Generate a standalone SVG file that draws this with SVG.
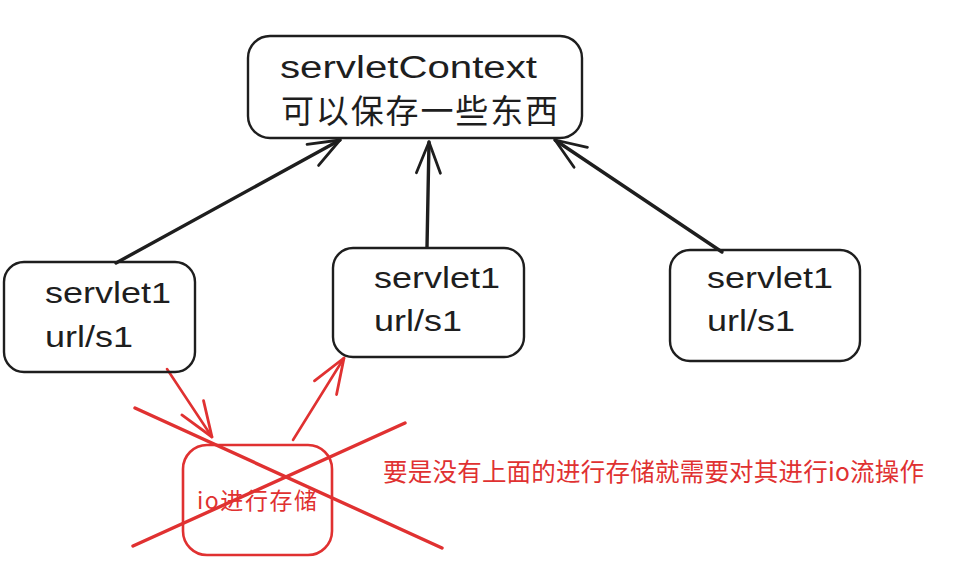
<svg xmlns="http://www.w3.org/2000/svg" width="960" height="580" viewBox="0 0 960 580">
<style>
.box{fill:none;stroke:#1e1e1e;stroke-width:2.4}
.rbox{fill:none;stroke:#e03131;stroke-width:2.6}
.t{font-family:"Liberation Sans","Noto Sans CJK SC",sans-serif;fill:#1e1e1e}
.cn{font-family:"Noto Sans CJK SC",sans-serif;fill:#1e1e1e}
.rt{font-family:"Noto Sans CJK SC","Liberation Sans",sans-serif;fill:#e03131}
.arr{fill:none;stroke:#1e1e1e;stroke-width:3.4;stroke-linecap:round}
.rarr{fill:none;stroke:#e03131;stroke-width:2.6;stroke-linecap:round}
.cross{fill:none;stroke:#e03131;stroke-width:3.4;stroke-linecap:round}
</style>
<defs>
<marker id="ah" markerUnits="userSpaceOnUse" markerWidth="80" markerHeight="80" viewBox="-40 -40 80 80" refX="0" refY="0" orient="auto">
<path d="M-31,-12 L0,0 L-31,12" fill="none" stroke="#1e1e1e" stroke-width="2.8" stroke-linecap="round" stroke-linejoin="round"/>
</marker>
<marker id="rah" markerUnits="userSpaceOnUse" markerWidth="80" markerHeight="80" viewBox="-40 -40 80 80" refX="0" refY="0" orient="auto">
<path d="M-35,-13 L0,0 L-35,13" fill="none" stroke="#e03131" stroke-width="2.8" stroke-linecap="round" stroke-linejoin="round"/>
</marker>
</defs>
<rect width="960" height="580" fill="#ffffff"/>

<g id="connectors">
<line class="arr" x1="116" y1="263" x2="340" y2="140" marker-end="url(#ah)"/>
<line class="arr" x1="427" y1="247" x2="429" y2="142" marker-end="url(#ah)"/>
<line class="arr" x1="722" y1="252" x2="555" y2="140" marker-end="url(#ah)"/>
<line class="rarr" x1="167" y1="369" x2="212" y2="437" marker-end="url(#rah)"/>
<line class="rarr" x1="293" y1="440" x2="344" y2="358" marker-end="url(#rah)"/>
</g>

<g id="servletContext">
<rect class="box" x="248" y="36" width="334" height="102" rx="22"/>
<text class="t" x="280" y="78" font-size="31" textLength="257" lengthAdjust="spacingAndGlyphs">servletContext</text>
<text class="cn" x="281" y="123" font-size="33" textLength="277" lengthAdjust="spacing">可以保存一些东西</text>
</g>

<g id="servlet-left">
<rect class="box" x="4" y="262" width="191" height="110" rx="20"/>
<text class="t" x="45" y="303" font-size="30" textLength="126" lengthAdjust="spacingAndGlyphs">servlet1</text>
<text class="t" x="45" y="347" font-size="30" textLength="88" lengthAdjust="spacingAndGlyphs">url/s1</text>
</g>

<g id="servlet-middle">
<rect class="box" x="333" y="248" width="191" height="109" rx="20"/>
<text class="t" x="374" y="288" font-size="30" textLength="126" lengthAdjust="spacingAndGlyphs">servlet1</text>
<text class="t" x="374" y="331" font-size="30" textLength="88" lengthAdjust="spacingAndGlyphs">url/s1</text>
</g>

<g id="servlet-right">
<rect class="box" x="670" y="250" width="190" height="111" rx="20"/>
<text class="t" x="707" y="288" font-size="30" textLength="126" lengthAdjust="spacingAndGlyphs">servlet1</text>
<text class="t" x="707" y="331" font-size="30" textLength="88" lengthAdjust="spacingAndGlyphs">url/s1</text>
</g>

<g id="io-storage">
<rect class="rbox" x="183" y="445" width="149" height="110" rx="24"/>
<text class="rt" x="197" y="509" font-size="23" textLength="120" lengthAdjust="spacing">io进行存储</text>
</g>

<g id="cross">
<line class="cross" x1="135" y1="408" x2="442" y2="548"/>
<line class="cross" x1="133" y1="546" x2="405" y2="423"/>
</g>

<g id="note">
<text class="rt" x="383" y="481" font-size="24.5" textLength="541" lengthAdjust="spacing">要是没有上面的进行存储就需要对其进行io流操作</text>
</g>
</svg>
